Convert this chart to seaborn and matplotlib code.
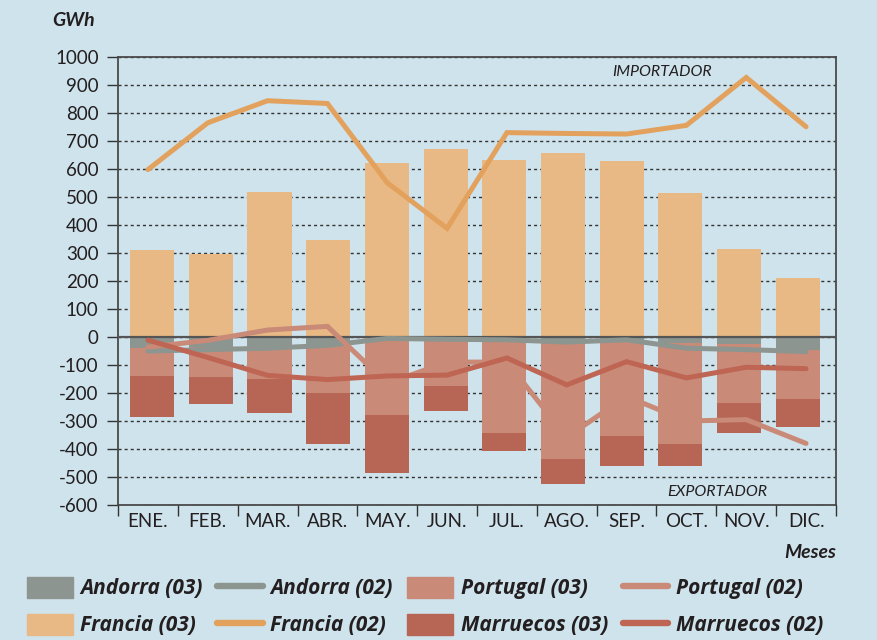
import numpy as np
import pandas as pd
import matplotlib
matplotlib.use("Agg")
import matplotlib.pyplot as plt
import seaborn as sns
from matplotlib.patches import Patch
from matplotlib.lines import Line2D

# ---------------- data ----------------
meses = ["ENE.", "FEB.", "MAR.", "ABR.", "MAY.", "JUN.",
         "JUL.", "AGO.", "SEP.", "OCT.", "NOV.", "DIC."]
francia_03 = [310, 295, 518, 346, 620, 671, 632, 656, 628, 514, 314, 211]
andorra_03 = [-40, -35, -40, -25, -5, -5, -5, -22, -12, -22, -25, -46]
portugal_03 = [-99, -107, -110, -176, -272, -169, -337, -412, -340, -361, -209, -175]
marruecos_03 = [-146, -98, -123, -180, -209, -90, -65, -90, -109, -76, -110, -99]

francia_02 = [598, 765, 844, 834, 551, 388, 730, 727, 725, 756, 927, 751]
andorra_02 = [-50, -45, -40, -30, -5, -8, -10, -18, -10, -40, -45, -52]
portugal_02 = [-36, -12, 25, 38, -165, -90, -89, -358, -212, -300, -295, -380]
marruecos_02 = [-11, -73, -137, -152, -139, -136, -75, -171, -88, -146, -108, -113]

y_ticks = list(range(-600, 1001, 100))

# ---------------- style ----------------
BG = "#cfe3ec"
C_FRA_BAR = "#e9b985"
C_FRA_LINE = "#e3a15e"
C_AND = "#8c958f"
C_POR_BAR = "#c98a78"
C_POR_LINE = "#c98a78"
C_MAR_BAR = "#b76655"
C_MAR_LINE = "#bf6553"
TXT = "#231f20"
AXC = "#4a4a4a"

sns.set_theme(style="white")
plt.rcParams["font.family"] = ["Lato", "DejaVu Sans"]

fig = plt.figure(figsize=(8.77, 6.4), dpi=100, facecolor=BG)
ax = fig.add_axes([0.1346, 0.2109, 0.8186, 0.7000])
ax.set_facecolor(BG)

df = pd.DataFrame({
    "mes": meses,
    "francia": francia_03,
    "andorra": andorra_03,
    "portugal": portugal_03,
    "marruecos": marruecos_03,
})
df["c_por"] = df["andorra"] + df["portugal"]
df["c_mar"] = df["c_por"] + df["marruecos"]

bar_kw = dict(width=0.75, saturation=1, linewidth=0, zorder=2, ax=ax, errorbar=None)
sns.barplot(data=df, x="mes", y="francia", color=C_FRA_BAR, **bar_kw)
sns.barplot(data=df, x="mes", y="c_mar", color=C_MAR_BAR, **bar_kw)
sns.barplot(data=df, x="mes", y="c_por", color=C_POR_BAR, **bar_kw)
sns.barplot(data=df, x="mes", y="andorra", color=C_AND, **bar_kw)

ax.set_xlim(-0.58, 11.65)
ax.set_ylim(-600, 1000)
ax.set_xlabel("")
ax.set_ylabel("")
ax.set_xticks([])
ax.set_yticks(y_ticks)
ax.set_yticklabels([str(v) for v in y_ticks])
ax.yaxis.grid(True, linestyle=(0, (2.2, 2.2)), color="#333333", linewidth=1.0)
ax.xaxis.grid(False)
ax.set_axisbelow(True)
ax.axhline(0, color="#555555", linewidth=1.6, zorder=3)
ax.tick_params(axis="y", direction="out", length=8, width=1.0, color="#333333",
               pad=6, labelsize=13.5, labelcolor=TXT, left=True)
for s in ax.spines.values():
    s.set_visible(True)
    s.set_color(AXC)
    s.set_linewidth(1.3)

# ---------------- lines (twin axis with month-centred scale) ----------------
axl = ax.twiny()
axl.set_xlim(-0.5, 11.5)
pos = np.arange(len(meses))
lw = 3.6
sns.lineplot(x=pos, y=andorra_02, color=C_AND, linewidth=lw, ax=axl, sort=False,
             solid_capstyle="round", solid_joinstyle="miter")
sns.lineplot(x=pos, y=portugal_02, color=C_POR_LINE, linewidth=lw, ax=axl, sort=False,
             solid_capstyle="round", solid_joinstyle="miter")
sns.lineplot(x=pos, y=francia_02, color=C_FRA_LINE, linewidth=lw, ax=axl, sort=False,
             solid_capstyle="round", solid_joinstyle="miter")
sns.lineplot(x=pos, y=marruecos_02, color=C_MAR_LINE, linewidth=lw, ax=axl, sort=False,
             solid_capstyle="round", solid_joinstyle="miter")
axl.set_xlim(-0.5, 11.5)
axl.set_ylim(-600, 1000)
axl.xaxis.set_ticks_position("bottom")
axl.xaxis.set_label_position("bottom")
axl.set_xticks(np.arange(-0.5, 12, 1))
axl.set_xticklabels([])
axl.set_xticks(pos, labels=meses, minor=True)
axl.tick_params(axis="x", which="major", direction="out", length=8, width=1.0,
                color="#333333", bottom=True, top=False)
axl.tick_params(axis="x", which="minor", length=0, pad=6, labelsize=13.5,
                labelcolor=TXT, bottom=True, top=False)
axl.set_xlabel("")
axl.set_ylabel("")
for s in axl.spines.values():
    s.set_visible(False)

# ---------------- texts ----------------
fig.text(52 / 877, 1 - 21 / 640, "GWh", ha="left", va="center", fontsize=14,
         fontweight="bold", fontstyle="italic", color=TXT)
fig.text(836 / 877, 1 - 552 / 640, "Meses", ha="right", va="center", fontsize=14,
         fontweight="bold", fontstyle="italic", color=TXT)
ax.text(0.758, 0.9665, "IMPORTADOR", transform=ax.transAxes, ha="center", va="center",
        fontsize=11.5, fontstyle="italic", color=TXT, zorder=5)
ax.text(0.834, 0.029, "EXPORTADOR", transform=ax.transAxes, ha="center", va="center",
        fontsize=11.5, fontstyle="italic", color=TXT, zorder=5)

# ---------------- legend ----------------
def lh(c):
    return Line2D([], [], color=c, linewidth=4.6, solid_capstyle="round")

handles = [Patch(color=C_AND), Patch(color=C_FRA_BAR),
           lh(C_AND), lh(C_FRA_LINE),
           Patch(color=C_POR_BAR), Patch(color=C_MAR_BAR),
           lh(C_POR_LINE), lh(C_MAR_LINE)]
labels = ["Andorra (03)", "Francia (03)",
          "Andorra (02)", "Francia (02)",
          "Portugal (03)", "Marruecos (03)",
          "Portugal (02)", "Marruecos (02)"]
fig.legend(handles, labels, ncol=4, loc="upper left",
           bbox_to_anchor=(27 / 877, 1 - 577 / 640), frameon=False,
           prop=dict(family=["Open Sans", "DejaVu Sans"], weight="bold", style="italic", size=15),
           labelcolor=TXT, handlelength=2.2, handleheight=1.15, handletextpad=0.35,
           columnspacing=0.7, labelspacing=0.7, borderpad=0, borderaxespad=0)

fig.savefig("out.png", dpi=100, facecolor=BG)
